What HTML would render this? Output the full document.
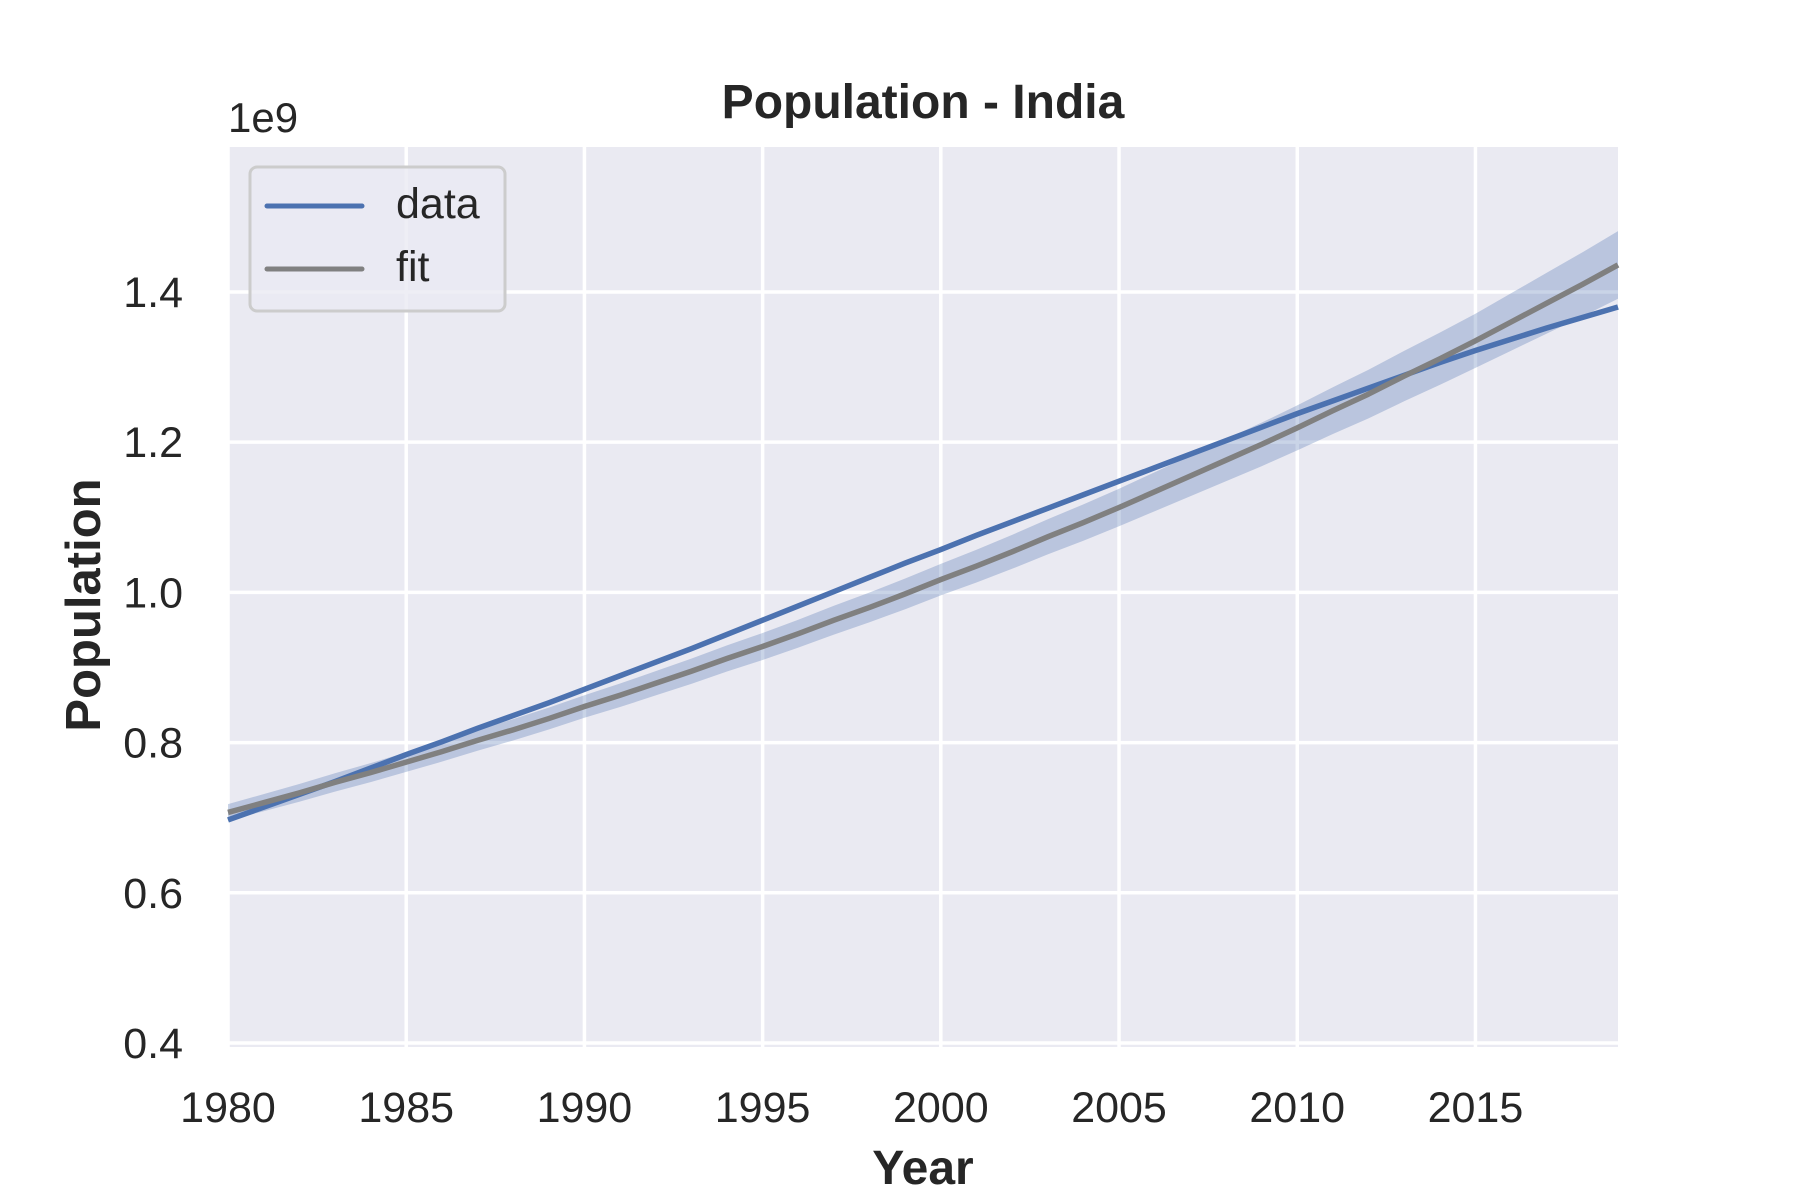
<!DOCTYPE html>
<html><head><meta charset="utf-8"><style>
html,body{margin:0;padding:0;background:#fff;}
svg{display:block;font-family:"Liberation Sans",Arial,sans-serif;}
</style></head><body>
<svg id="chart" width="1800" height="1200" viewBox="0 0 1800 1200">
<rect x="228" y="147" width="1390" height="900" fill="#eaeaf2"/>
<g id="grid"></g>
<g id="marks"></g>
<g id="ticks"></g>
<text x="923" y="118" text-anchor="middle" font-size="48" font-weight="bold" fill="#262626">Population - India</text>
<text x="228" y="132" font-size="42" fill="#262626">1e9</text>
<text x="923" y="1184" text-anchor="middle" font-size="48" font-weight="bold" fill="#262626">Year</text>
<text transform="translate(100,605) rotate(-90)" text-anchor="middle" font-size="49" font-weight="bold" fill="#262626">Population</text>
<g>
<rect x="250" y="167" width="255" height="144" rx="7" fill="#eaeaf2" fill-opacity="0.8" stroke="#cccccc" stroke-width="3"/>
<line x1="267" y1="206" x2="362" y2="206" stroke="#4c72b0" stroke-width="5" stroke-linecap="round"/>
<text x="396" y="218" font-size="43" fill="#262626">data</text>
<line x1="267" y1="269" x2="362" y2="269" stroke="#808080" stroke-width="5" stroke-linecap="round"/>
<text x="396" y="281" font-size="43" fill="#262626">fit</text>
</g>
</svg>
<script>
const years = [1980,1981,1982,1983,1984,1985,1986,1987,1988,1989,1990,1991,1992,1993,1994,1995,1996,1997,1998,1999,2000,2001,2002,2003,2004,2005,2006,2007,2008,2009,2010,2011,2012,2013,2014,2015,2016,2017,2018,2019];
const dataValues = [0.697,0.714,0.731,0.748,0.766,0.784,0.801,0.819,0.836,0.853,0.871,0.889,0.907,0.925,0.944,0.963,0.982,1.001,1.020,1.039,1.057,1.076,1.094,1.112,1.130,1.148,1.166,1.184,1.202,1.220,1.238,1.255,1.272,1.289,1.306,1.322,1.337,1.352,1.366,1.380];
const fitValues = [0.707,0.720,0.733,0.747,0.760,0.774,0.788,0.803,0.817,0.832,0.848,0.863,0.879,0.895,0.912,0.928,0.945,0.963,0.980,0.998,1.017,1.035,1.054,1.074,1.093,1.113,1.134,1.155,1.176,1.197,1.219,1.242,1.264,1.288,1.311,1.335,1.360,1.385,1.410,1.436];
const bandYears = [1980,1985,1990,1995,2000,2005,2010,2015,2019];
const bandHalf = [0.011,0.013,0.015,0.018,0.021,0.025,0.030,0.036,0.045];
const xTicks = [1980,1985,1990,1995,2000,2005,2010,2015];
const yTicks = [0.4,0.6,0.8,1.0,1.2,1.4];
const yTickLabels = ["0.4","0.6","0.8","1.0","1.2","1.4"];

const X0=228,X1=1618,Y0=1047,Y1=147,xmin=1980,xmax=2019,ymin=0.3947,ymax=1.593;
const xs=v=>X0+(v-xmin)/(xmax-xmin)*(X1-X0);
const ys=v=>Y0-(v-ymin)/(ymax-ymin)*(Y0-Y1);
const NS="http://www.w3.org/2000/svg";
function mk(tag,attrs,parent){const e=document.createElementNS(NS,tag);for(const k in attrs)e.setAttribute(k,attrs[k]);parent.appendChild(e);return e;}
const grid=document.getElementById('grid'),marks=document.getElementById('marks'),ticks=document.getElementById('ticks');
xTicks.forEach(t=>{
  const l=mk('line',{x1:xs(t),x2:xs(t),y1:Y1,y2:Y0,stroke:'#fff','stroke-width':3.5},grid);
  
  
  const tx=mk('text',{x:xs(t),y:1122,'text-anchor':'middle','font-size':43,fill:'#262626'},ticks);
  tx.textContent=t;
  
  
});
yTicks.forEach((t,i)=>{
  const l=mk('line',{x1:X0,x2:X1,y1:ys(t),y2:ys(t),stroke:'#fff','stroke-width':3.5},grid);
  
  
  const tx=mk('text',{x:183,y:ys(t)+15,'text-anchor':'end','font-size':43,fill:'#262626'},ticks);
  tx.textContent=yTickLabels[i];
  
  
});
function halfAt(yr){for(let i=0;i<bandYears.length-1;i++){if(yr<=bandYears[i+1]){const f=(yr-bandYears[i])/(bandYears[i+1]-bandYears[i]);return bandHalf[i]+f*(bandHalf[i+1]-bandHalf[i]);}}return bandHalf[bandHalf.length-1];}
let up=[],lo=[];
years.forEach((yr,i)=>{const h=halfAt(yr);up.push(xs(yr)+','+ys(fitValues[i]+h));lo.push(xs(yr)+','+ys(fitValues[i]-h));});
const band=mk('polygon',{points:up.concat(lo.reverse()).join(' '),fill:'#4c72b0','fill-opacity':0.3},marks);


const dl=mk('polyline',{points:years.map((y,i)=>xs(y)+','+ys(dataValues[i])).join(' '),fill:'none',stroke:'#4c72b0','stroke-width':5.5,'stroke-linejoin':'round'},marks);


const fl=mk('polyline',{points:years.map((y,i)=>xs(y)+','+ys(fitValues[i])).join(' '),fill:'none',stroke:'#808080','stroke-width':5.5,'stroke-linejoin':'round'},marks);


</script>
</body></html>
